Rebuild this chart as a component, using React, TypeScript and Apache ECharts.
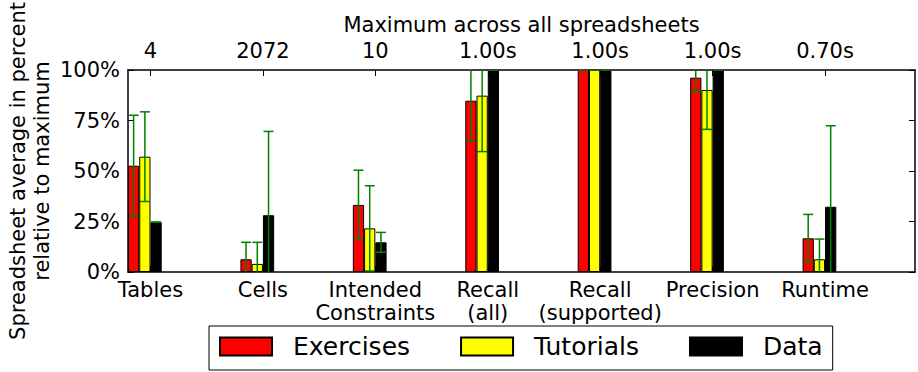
import React, { useEffect, useRef } from "react";
import * as echarts from "echarts";

const categories = ["Tables", "Cells", "Intended\nConstraints", "Recall\n(all)", "Recall\n(supported)", "Precision", "Runtime"];
const maxima = ["4", "2072", "10", "1.00s", "1.00s", "1.00s", "0.70s"];
const seriesNames = ["Exercises", "Tutorials", "Data"];
const exercises = [52.6, 6.3, 33.2, 84.8, 100, 96.2, 16.7];
const exercisesErr = [25, 8.4, 17.2, 19.9, 0, 6.9, 11.8];
const tutorials = [57.1, 4.0, 21.6, 87.3, 100, 90.1, 6.3];
const tutorialsErr = [22.2, 10.7, 21.1, 27.7, 0, 19.5, 10];
const dataVals = [24.7, 28.1, 14.7, 100, 100, 100, 32.3];
const dataErr = [0, 41.5, 4.9, 0, 0, 0, 40.1];
const yTicks = [0, 25, 50, 75, 100];

const colors = ["#ff0000", "#ffff00", "#000000"];
const offsets = [0.05, 0.15, 0.25];
const tickOffset = 0.2;
const FONT = "DejaVu Sans";

export default function App() {
  const ref = useRef<HTMLDivElement>(null);
  useEffect(() => {
    if (!ref.current) return;
    const chart = echarts.init(ref.current, undefined, { renderer: "svg" });
    const values = [exercises, tutorials, dataVals];
    const errs = [exercisesErr, tutorialsErr, dataErr];
    const tickVals = categories.map((_, i) => i + tickOffset);
    const idx = (v: number) => Math.round(v - tickOffset);
    const plotW = 918 - 128 - 3;
    const barW = (plotW / 7) * 0.1;

    const barSeries = values.map((vals, s) => ({
      name: seriesNames[s],
      type: "bar",
      xAxisIndex: 0,
      yAxisIndex: 0,
      barWidth: barW,
      barGap: "-100%",
      itemStyle: { color: colors[s], borderColor: "#000", borderWidth: 1 },
      data: vals.map((v, i) => [i + offsets[s], v]),
      z: 2,
    }));

    const errData: number[][] = [];
    values.forEach((vals, s) => {
      vals.forEach((v, i) => {
        errData.push([i + offsets[s], v - errs[s][i], v + errs[s][i]]);
      });
    });

    const errSeries = {
      type: "custom",
      xAxisIndex: 0,
      yAxisIndex: 0,
      clip: true,
      z: 5,
      encode: { x: 0, y: [1, 2] },
      data: errData,
      renderItem: (params: any, api: any) => {
        const x = api.value(0);
        const lo = api.coord([x, api.value(1)]);
        const hi = api.coord([x, api.value(2)]);
        const cap = 5;
        const style = { stroke: "#008000", lineWidth: 1.5 };
        return {
          type: "group",
          children: [
            { type: "line", shape: { x1: lo[0], y1: lo[1], x2: hi[0], y2: hi[1] }, style },
            { type: "line", shape: { x1: hi[0] - cap, y1: hi[1], x2: hi[0] + cap, y2: hi[1] }, style },
            { type: "line", shape: { x1: lo[0] - cap, y1: lo[1], x2: lo[0] + cap, y2: lo[1] }, style },
          ],
        };
      },
    };

    const axisLine = { show: true, onZero: false, lineStyle: { color: "#000", width: 1.5 } };
    const labelStyle = { color: "#000", fontSize: 21, fontFamily: FONT };

    chart.setOption({
      animation: false,
      textStyle: { fontFamily: FONT, color: "#000" },
      grid: { left: 128, right: 3, top: 70, bottom: 100, containLabel: false, outerBoundsMode: "none" },
      legend: {
        data: seriesNames,
        left: 209,
        top: 326,
        orient: "horizontal",
        padding: [8, 10, 11, 10],
        itemWidth: 52,
        itemHeight: 18,
        itemGap: 50,
        icon: "rect",
        borderColor: "#000",
        borderWidth: 1,
        textStyle: { fontSize: 25, color: "#000", fontFamily: FONT, padding: [0, 0, 0, 16] },
      },
      xAxis: [
        {
          type: "value",
          position: "bottom",
          min: 0,
          max: 7,
          axisLine,
          splitLine: { show: false },
          axisTick: { show: true, inside: true, length: 6, customValues: tickVals, lineStyle: { color: "#000" } },
          axisLabel: {
            ...labelStyle,
            margin: 6,
            lineHeight: 23,
            customValues: tickVals,
            formatter: (v: number) => categories[idx(v)] ?? "",
          },
        },
        {
          type: "value",
          position: "top",
          min: 0,
          max: 7,
          axisLine,
          splitLine: { show: false },
          name: "Maximum across all spreadsheets",
          nameLocation: "middle",
          nameGap: 35,
          nameMoveOverlap: false,
          nameTextStyle: { fontSize: 21, color: "#000", fontFamily: FONT },
          axisTick: { show: true, inside: true, length: 6, customValues: tickVals, lineStyle: { color: "#000" } },
          axisLabel: {
            ...labelStyle,
            margin: 9,
            customValues: tickVals,
            formatter: (v: number) => maxima[idx(v)] ?? "",
          },
        },
      ],
      yAxis: [
        {
          type: "value",
          position: "left",
          min: yTicks[0],
          max: yTicks[yTicks.length - 1],
          interval: 25,
          axisLine,
          splitLine: { show: false },
          name: "Spreadsheet average in percent\nrelative to maximum",
          nameLocation: "middle",
          nameGap: 74,
          nameMoveOverlap: false,
          nameRotate: 90,
          nameTextStyle: { fontSize: 21, lineHeight: 24, color: "#000", fontFamily: FONT },
          axisTick: { show: true, inside: true, length: 6, lineStyle: { color: "#000" } },
          axisLabel: { ...labelStyle, margin: 8, formatter: (v: number) => `${v}%` },
        },
        {
          type: "value",
          position: "right",
          min: yTicks[0],
          max: yTicks[yTicks.length - 1],
          interval: 25,
          axisLine,
          splitLine: { show: false },
          axisTick: { show: true, inside: true, length: 6, lineStyle: { color: "#000" } },
          axisLabel: { show: false },
        },
      ],
      series: [...barSeries, errSeries],
    });
    return () => chart.dispose();
  }, []);
  return <div ref={ref} style={{ position: "fixed", left: 0, top: 0, width: 918, height: 372, background: "#fff" }} />;
}
